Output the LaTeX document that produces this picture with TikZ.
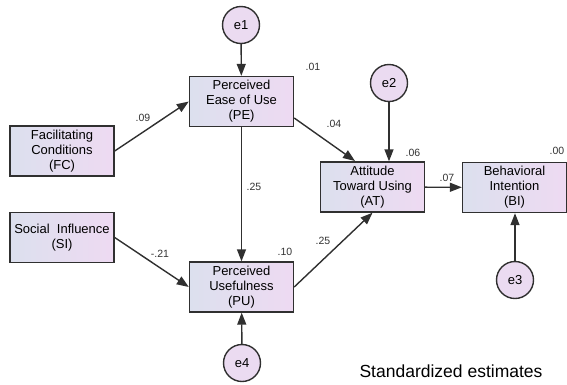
\documentclass[tikz,border=0pt]{standalone}
\usepackage{fontspec}
\setmainfont{Liberation Sans}
\usepackage{xcolor}
\usetikzlibrary{arrows.meta,positioning,calc}

\definecolor{boxleft}{HTML}{DCE0EE}
\definecolor{boxright}{HTML}{EEDAF2}
\definecolor{errfill}{HTML}{EBDBF1}
\definecolor{edge}{HTML}{303030}

\begin{document}
\begin{tikzpicture}[
    x=1pt, y=-1pt,
    box/.style={rectangle, draw=edge, line width=1.4pt, minimum width=104pt, minimum height=50pt,
        inner sep=1pt, align=center, left color=boxleft, right color=boxright,
        font=\fontsize{13}{15}\selectfont},
    err/.style={circle, draw=edge, line width=1.4pt, minimum size=37pt, inner sep=0pt,
        fill=errfill, font=\fontsize{13}{15}\selectfont},
    arrow/.style={-{Triangle[length=12pt,width=9pt]}, line width=1.4pt, draw=edge},
    est/.style={font=\fontsize{10.5}{12}\selectfont, text=black!80}
]
    \useasboundingbox (0,0) rectangle (567,384);

    % observed variables
    \node[box] (pe) at (241.5,101.5) {Perceived\\Ease of Use\\(PE)};
    \node[box] (fc) at (62,151) {Facilitating\\Conditions\\(FC)};
    \node[box] (si) at (62,237.5) {Social\ \ Influence\\(SI)};
    \node[box] (pu) at (241.5,287) {Perceived\\Usefulness\\(PU)};
    \node[box] (at) at (372.5,187) {Attitude\\Toward Using\\(AT)};
    \node[box] (bi) at (514.5,187.5) {Behavioral\\Intention\\(BI)};

    % error terms
    \node[err] (e1) at (241,25) {e1};
    \node[err] (e2) at (389,83) {e2};
    \node[err] (e3) at (515,280) {e3};
    \node[err] (e4) at (242,363) {e4};

    % paths
    \draw[arrow] (e1) -- (pe);
    \draw[arrow] (fc.east) -- (pe.west);
    \draw[arrow] (si.east) -- (pu.west);
    \draw[arrow] (pe) -- (pu);
    \draw[arrow] (pe.east |- 0,118) -- (355,161);
    \draw[arrow] (pu.east) -- (at.south);
    \draw[arrow] (e2) -- (e2 |- at.north);
    \draw[arrow] (at) -- (bi);
    \draw[arrow] (e3) -- (e3 |- bi.south);
    \draw[arrow] (e4) -- (pu);

    % estimates
    \node[est] (r2pe) at (313,67) {.01};
    \node[est] (r2at) at (413,153) {.06};
    \node[est] (r2bi) at (557,151) {.00};
    \node[est] (r2pu) at (285,252) {.10};
    \node[est] (bfcpe) at (143,118) {.09};
    \node[est] (bpeat) at (334,124) {.04};
    \node[est] (batbi) at (447,178) {.07};
    \node[est] (bpepu) at (254,187) {.25};
    \node[est] (bpuat) at (323,241) {.25};
    \node[est] (bsipu) at (160,254) {-.21};

    \node[font=\fontsize{17.5}{20}\selectfont] (note) at (451,371) {Standardized estimates};
\end{tikzpicture}
\end{document}
